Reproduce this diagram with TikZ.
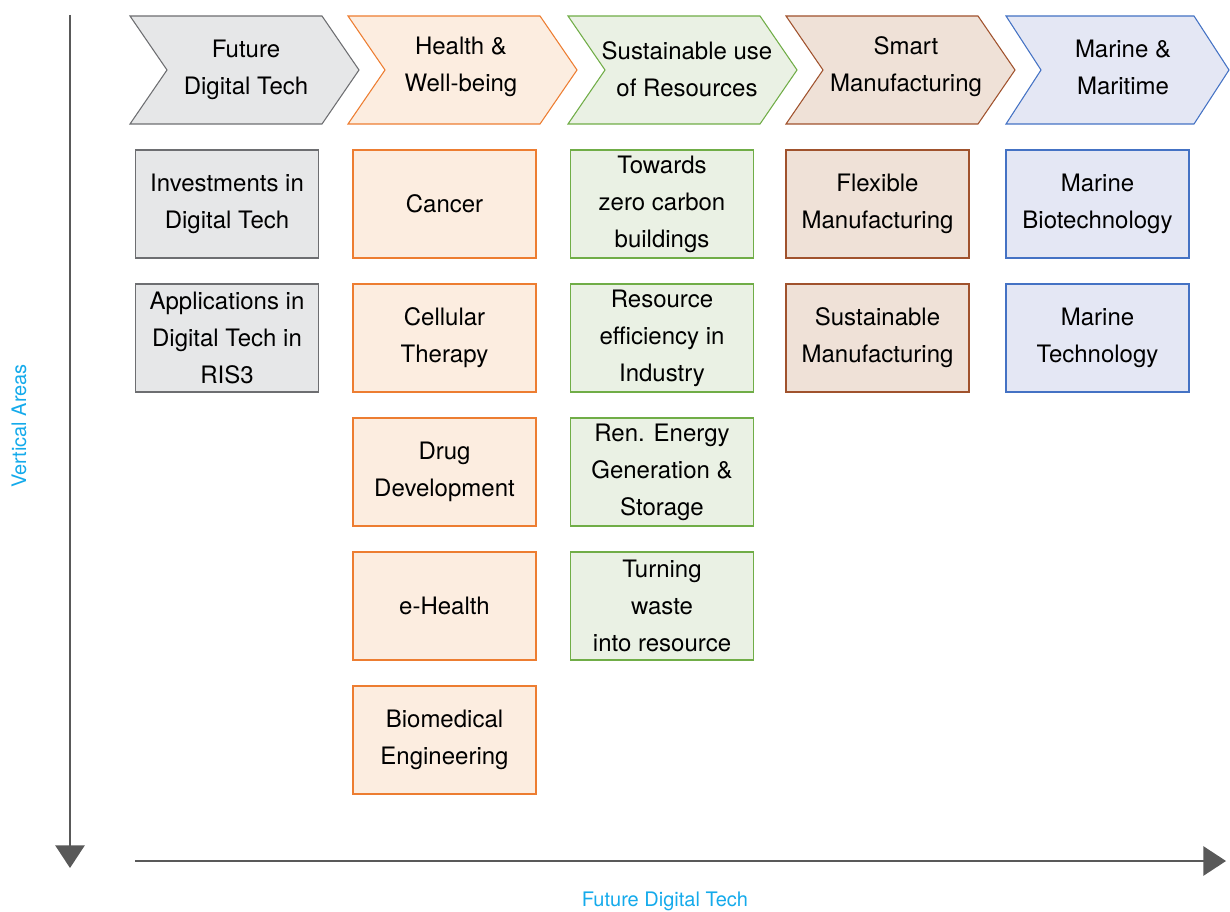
\documentclass[tikz,border=0pt]{standalone}
\usepackage{fontspec}
\setmainfont{TeX Gyre Heros}
\usetikzlibrary{positioning}
\usetikzlibrary{arrows.meta}

\definecolor{grayln}{HTML}{6D6E71}
\definecolor{grayfl}{HTML}{E6E7E8}
\definecolor{orgln}{HTML}{ED7D31}
\definecolor{orgfl}{HTML}{FCEDE0}
\definecolor{grnln}{HTML}{70AD47}
\definecolor{grnfl}{HTML}{EAF1E4}
\definecolor{brnln}{HTML}{A0522D}
\definecolor{brnfl}{HTML}{EFE1D7}
\definecolor{bluln}{HTML}{4472C4}
\definecolor{blufl}{HTML}{E4E7F4}
\definecolor{axisln}{HTML}{595959}
\definecolor{axistx}{HTML}{14AAEB}

\newcommand{\areafont}{\fontsize{18}{27.75}\selectfont}
\newcommand{\axisfont}{\fontsize{15}{18}\selectfont}

\tikzset{box/.style={draw, line width=0.8pt, align=center, font=\areafont,
  minimum width=137.25pt, minimum height=81pt, inner sep=1pt, outer sep=0pt}}
\tikzset{head/.style={align=center, font=\areafont, inner sep=0pt}}
\tikzset{axis/.style={draw=axisln, line width=1.2pt, -{Triangle[width=22pt,length=17pt]}}}
\tikzset{axlab/.style={text=axistx, font=\axisfont, inner sep=0pt}}
\tikzset{gr/.style={draw=grayln, fill=grayfl}}
\tikzset{og/.style={draw=orgln, fill=orgfl}}
\tikzset{gn/.style={draw=grnln, fill=grnfl}}
\tikzset{bn/.style={draw=brnln, fill=brnfl}}
\tikzset{bl/.style={draw=bluln, fill=blufl}}

\begin{document}
\begin{tikzpicture}[x=0.75pt, y=-0.75pt]
\useasboundingbox (0,0) rectangle (1230,912);

% chevrons along the top
\draw[gr, line width=0.8pt] (130,16) -- ++(192,0) -- ++(37,54) -- ++(-37,54) -- ++(-192,0) -- ++(37,-54) -- cycle;
\draw[og, line width=0.8pt] (348,16) -- ++(192,0) -- ++(37,54) -- ++(-37,54) -- ++(-192,0) -- ++(37,-54) -- cycle;
\draw[gn, line width=0.8pt] (568,16) -- ++(192,0) -- ++(37,54) -- ++(-37,54) -- ++(-192,0) -- ++(37,-54) -- cycle;
\draw[bn, line width=0.8pt] (786,16) -- ++(192,0) -- ++(37,54) -- ++(-37,54) -- ++(-192,0) -- ++(37,-54) -- cycle;
\draw[bl, line width=0.8pt] (1006,16) -- ++(188,0) -- ++(35,54) -- ++(-35,54) -- ++(-188,0) -- ++(35,-54) -- cycle;

\node[head] (fdt) at (246,70) {Future\\Digital Tech};
\node[head] (hwb) at (461,67) {Health \&\\Well-being};
\node[head] (sur) at (687,69) {Sustainable use\\of Resources};
\node[head] (smf) at (906,67) {Smart\\Manufacturing};
\node[head] (mmt) at (1123,67) {Marine \&\\Maritime};

% first column
\node[box, gr] (inv) at (227,204) {Investments in\\Digital Tech};
\node[box, gr] (app) [below=19.5pt of inv] {Applications in\\Digital Tech in\\RIS3};

% second column
\node[box, og] (can) at (444.5,204) {Cancer};
\node[box, og] (cel) [below=19.5pt of can] {Cellular\\Therapy};
\node[box, og] (drg) [below=19.5pt of cel] {Drug\\Development};
\node[box, og] (ehl) [below=19.5pt of drg] {e-Health};
\node[box, og] (bme) [below=19.5pt of ehl] {Biomedical\\Engineering};

% third column
\node[box, gn] (zcb) at (662,204) {Towards\\zero carbon\\buildings};
\node[box, gn] (rei) [below=19.5pt of zcb] {Resource\\efficiency in\\Industry};
\node[box, gn] (ren) [below=19.5pt of rei] {Ren. Energy\\Generation \&\\Storage};
\node[box, gn] (twr) [below=19.5pt of ren] {Turning\\waste\\into resource};

% fourth column
\node[box, bn] (flx) at (877.5,204) {Flexible\\Manufacturing};
\node[box, bn] (sus) [below=19.5pt of flx] {Sustainable\\Manufacturing};

% fifth column
\node[box, bl] (mbt) at (1097.5,204) {Marine\\Biotechnology};
\node[box, bl] (mtc) [below=19.5pt of mbt] {Marine\\Technology};

% axes
\coordinate (vtop) at (70,15);
\coordinate (vend) at (70,868);
\coordinate (hstart) at (135,861);
\coordinate (hend) at (1226,861);
\draw[axis] (vtop) -- (vend);
\draw[axis] (hstart) -- (hend);

\node[axlab, rotate=90] (vlab) at (19,426) {Vertical Areas};
\node[axlab] (hlab) at (665,901) {Future Digital Tech};
\end{tikzpicture}
\end{document}
